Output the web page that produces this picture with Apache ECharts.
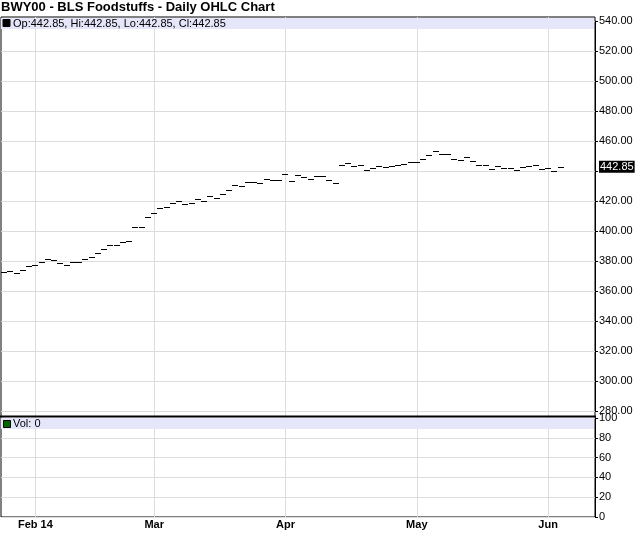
<!DOCTYPE html>
<html>
<head>
<meta charset="utf-8">
<script src="https://cdn.jsdelivr.net/npm/echarts@6/dist/echarts.min.js"></script>
<style>
html,body{margin:0;padding:0;background:#fff;}
#chart{width:640px;height:536px;}
</style>
</head>
<body>
<div id="chart"></div>
<script>
// Trading days shown on the axis (data runs to 2014-06-04, axis padded to 2014-06-11)
const dates = [
 '2014-01-27','2014-01-28','2014-01-29','2014-01-30','2014-01-31',
 '2014-02-03','2014-02-04','2014-02-05','2014-02-06','2014-02-07','2014-02-10','2014-02-11','2014-02-12','2014-02-13','2014-02-14',
 '2014-02-18','2014-02-19','2014-02-20','2014-02-21','2014-02-24','2014-02-25','2014-02-26','2014-02-27','2014-02-28',
 '2014-03-03','2014-03-04','2014-03-05','2014-03-06','2014-03-07','2014-03-10','2014-03-11','2014-03-12','2014-03-13','2014-03-14',
 '2014-03-17','2014-03-18','2014-03-19','2014-03-20','2014-03-21','2014-03-24','2014-03-25','2014-03-26','2014-03-27','2014-03-28','2014-03-31',
 '2014-04-01','2014-04-02','2014-04-03','2014-04-04','2014-04-07','2014-04-08','2014-04-09','2014-04-10','2014-04-11',
 '2014-04-14','2014-04-15','2014-04-16','2014-04-17','2014-04-21','2014-04-22','2014-04-23','2014-04-24','2014-04-25',
 '2014-04-28','2014-04-29','2014-04-30',
 '2014-05-01','2014-05-02','2014-05-05','2014-05-06','2014-05-07','2014-05-08','2014-05-09','2014-05-12','2014-05-13','2014-05-14',
 '2014-05-15','2014-05-16','2014-05-19','2014-05-20','2014-05-21','2014-05-22','2014-05-23','2014-05-27','2014-05-28','2014-05-29','2014-05-30',
 '2014-06-02','2014-06-03','2014-06-04','2014-06-05','2014-06-06','2014-06-09','2014-06-10','2014-06-11'
];

// Daily index level (open = high = low = close for this index)
const prices = [
 372.4,373.1,371.8,374.0,376.4,
 377.1,379.1,381.3,380.7,378.4,377.1,379.1,379.1,381.1,382.4,
 385.1,387.8,390.4,390.4,392.4,393.3,402.4,402.4,409.1,
 411.8,415.1,415.8,418.4,419.8,417.8,418.4,421.1,419.8,423.1,
 421.8,424.4,427.1,430.4,429.8,432.4,432.4,431.8,434.4,433.8,433.8,
 437.8,433.1,437.1,435.8,434.4,436.4,436.4,433.8,431.8,
 443.8,445.1,443.1,443.8,440.4,441.8,443.1,442.4,443.1,
 443.8,444.4,445.8,
 445.8,447.8,450.4,453.3,451.1,451.1,447.8,447.1,449.1,446.4,
 443.8,443.8,441.1,443.1,441.8,441.8,440.4,442.4,443.1,443.8,441.1,
 441.8,439.8,442.85
];

const lastVolume = 0;

// Month tick labels on the time axis
const tickDates = ['2014-02-03','2014-03-03','2014-04-01','2014-05-01','2014-06-02'];
const tickTexts = ['Feb 14','Mar','Apr','May','Jun'];

// Axis ranges
const priceMin = 280, priceMax = 540, priceStep = 20;
const volMin = 0, volMax = 100, volStep = 20;

const FONT = "'Liberation Sans', Arial, sans-serif";
const last = prices[prices.length - 1];
const ohlc = prices.map((p, i) => [i, p, p, p, p]);
const isTick = (idx, val) => tickDates.indexOf(val) >= 0;

const chart = echarts.init(document.getElementById('chart'), null, {renderer: 'canvas'});

function renderOHLC(params, api) {
  const i = api.value(0);
  const o = api.coord([i, api.value(1)]);
  const h = api.coord([i, api.value(2)]);
  const l = api.coord([i, api.value(3)]);
  const c = api.coord([i, api.value(4)]);
  const w = api.size([1, 0])[0] * 0.48;
  const py = v => Math.round(v) + 0.5;
  const xl = Math.round(o[0] - w), xm = Math.round(o[0]), xr = Math.round(c[0] + w);
  const style = {stroke: '#000', lineWidth: 1};
  const children = [];
  if (py(o[1]) === py(c[1])) {
    children.push({type: 'line', shape: {x1: xl, y1: py(o[1]), x2: xr, y2: py(c[1])}, style: style});
  } else {
    children.push({type: 'line', shape: {x1: xl, y1: py(o[1]), x2: xm, y2: py(o[1])}, style: style});
    children.push({type: 'line', shape: {x1: xm, y1: py(c[1]), x2: xr, y2: py(c[1])}, style: style});
  }
  if (Math.round(h[1]) !== Math.round(l[1])) {
    children.push({type: 'line', shape: {x1: xm + 0.5, y1: Math.round(h[1]), x2: xm + 0.5, y2: Math.round(l[1]) + 1}, style: style});
  }
  return {type: 'group', children: children};
}

const option = {
  animation: false,
  backgroundColor: '#fff',
  title: {
    text: 'BWY00 - BLS Foodstuffs - Daily OHLC Chart',
    left: 1, top: 1, padding: 0,
    textStyle: {fontFamily: FONT, fontSize: 13, fontWeight: 'bold', color: '#000'}
  },
  grid: [
    {left: 1, right: 45, top: 17, height: 500, show: true, borderColor: '#000', borderWidth: 1, backgroundColor: '#fff'},
    {left: 1, right: 45, top: 21, height: 390},
    {left: 1, right: 45, top: 418, height: 99}
  ],
  xAxis: [
    {
      type: 'category', gridIndex: 0, data: dates, boundaryGap: true,
      axisLine: {show: false}, axisTick: {show: false},
      axisLabel: {
        interval: isTick, margin: 2,
        formatter: v => tickTexts[tickDates.indexOf(v)],
        fontFamily: FONT, fontSize: 11, fontWeight: 'bold', color: '#000'
      },
      splitLine: {show: true, interval: isTick, alignWithLabel: true, lineStyle: {color: '#dcdcdc', width: 1}}
    },
    {type: 'category', gridIndex: 1, data: dates, boundaryGap: true, show: false},
    {type: 'category', gridIndex: 2, data: dates, boundaryGap: true, show: false}
  ],
  yAxis: [
    {type: 'value', gridIndex: 0, min: 0, max: 1, show: false, splitLine: {show: false}},
    {
      type: 'value', gridIndex: 1, position: 'right',
      min: priceMin, max: priceMax, interval: priceStep,
      axisLine: {show: true, lineStyle: {color: '#000'}},
      axisTick: {show: true, length: 3, lineStyle: {color: '#000'}},
      axisLabel: {
        margin: 4, fontFamily: FONT, fontSize: 11, color: '#000',
        formatter: v => (Math.abs(v - last) < 6 ? '' : v.toFixed(2))
      },
      splitLine: {show: true, lineStyle: {color: '#dcdcdc', width: 1}}
    },
    {
      type: 'value', gridIndex: 2, position: 'right',
      min: volMin, max: volMax, interval: volStep,
      axisLine: {show: true, lineStyle: {color: '#000'}},
      axisTick: {show: true, length: 3, lineStyle: {color: '#000'}},
      axisLabel: {margin: 4, fontFamily: FONT, fontSize: 11, color: '#000'},
      splitLine: {show: true, lineStyle: {color: '#dcdcdc', width: 1}}
    }
  ],
  series: [
    {
      type: 'custom', name: 'OHLC', xAxisIndex: 1, yAxisIndex: 1,
      data: ohlc, encode: {x: 0, y: [1, 2, 3, 4]},
      renderItem: renderOHLC, z: 3
    },
    {
      type: 'line', name: 'Last', xAxisIndex: 1, yAxisIndex: 1,
      data: [], silent: true, z: 4,
      markLine: {
        silent: true, symbol: 'none', animation: false,
        lineStyle: {color: 'rgba(0,0,0,0)', width: 1, opacity: 1},
        label: {
          show: true, position: 'end', distance: 4, opacity: 1,
          formatter: () => last.toFixed(2),
          color: '#fff', backgroundColor: '#000',
          fontFamily: FONT, fontSize: 11, padding: [1, 1, 0, 1]
        },
        data: [{yAxis: last}]
      }
    }
  ],
  graphic: [
    {type: 'rect', z: 50, shape: {x: 1, y: 18, width: 593, height: 11}, style: {fill: '#e6e6fa'}},
    {type: 'rect', z: 51, shape: {x: 3, y: 19.5, width: 7, height: 7}, style: {fill: '#000', stroke: '#000', lineWidth: 1}},
    {type: 'text', z: 51, x: 13, y: 23.5, style: {
      text: 'Op:' + last.toFixed(2) + ', Hi:' + last.toFixed(2) + ', Lo:' + last.toFixed(2) + ', Cl:' + last.toFixed(2),
      fontFamily: FONT, fontSize: 11, fill: '#000', verticalAlign: 'middle'}},
    {type: 'rect', z: 50, shape: {x: 1, y: 418, width: 593, height: 11}, style: {fill: '#e6e6fa'}},
    {type: 'rect', z: 51, shape: {x: 3.5, y: 420.5, width: 7, height: 7}, style: {fill: '#006400', stroke: '#000', lineWidth: 1}},
    {type: 'text', z: 51, x: 13, y: 424, style: {
      text: 'Vol: ' + lastVolume, fontFamily: FONT, fontSize: 11, fill: '#000', verticalAlign: 'middle'}},
    {type: 'rect', z: 60, shape: {x: 0, y: 415.5, width: 596, height: 2}, style: {fill: '#000'}}
  ]
};

chart.setOption(option);
</script>
</body>
</html>
